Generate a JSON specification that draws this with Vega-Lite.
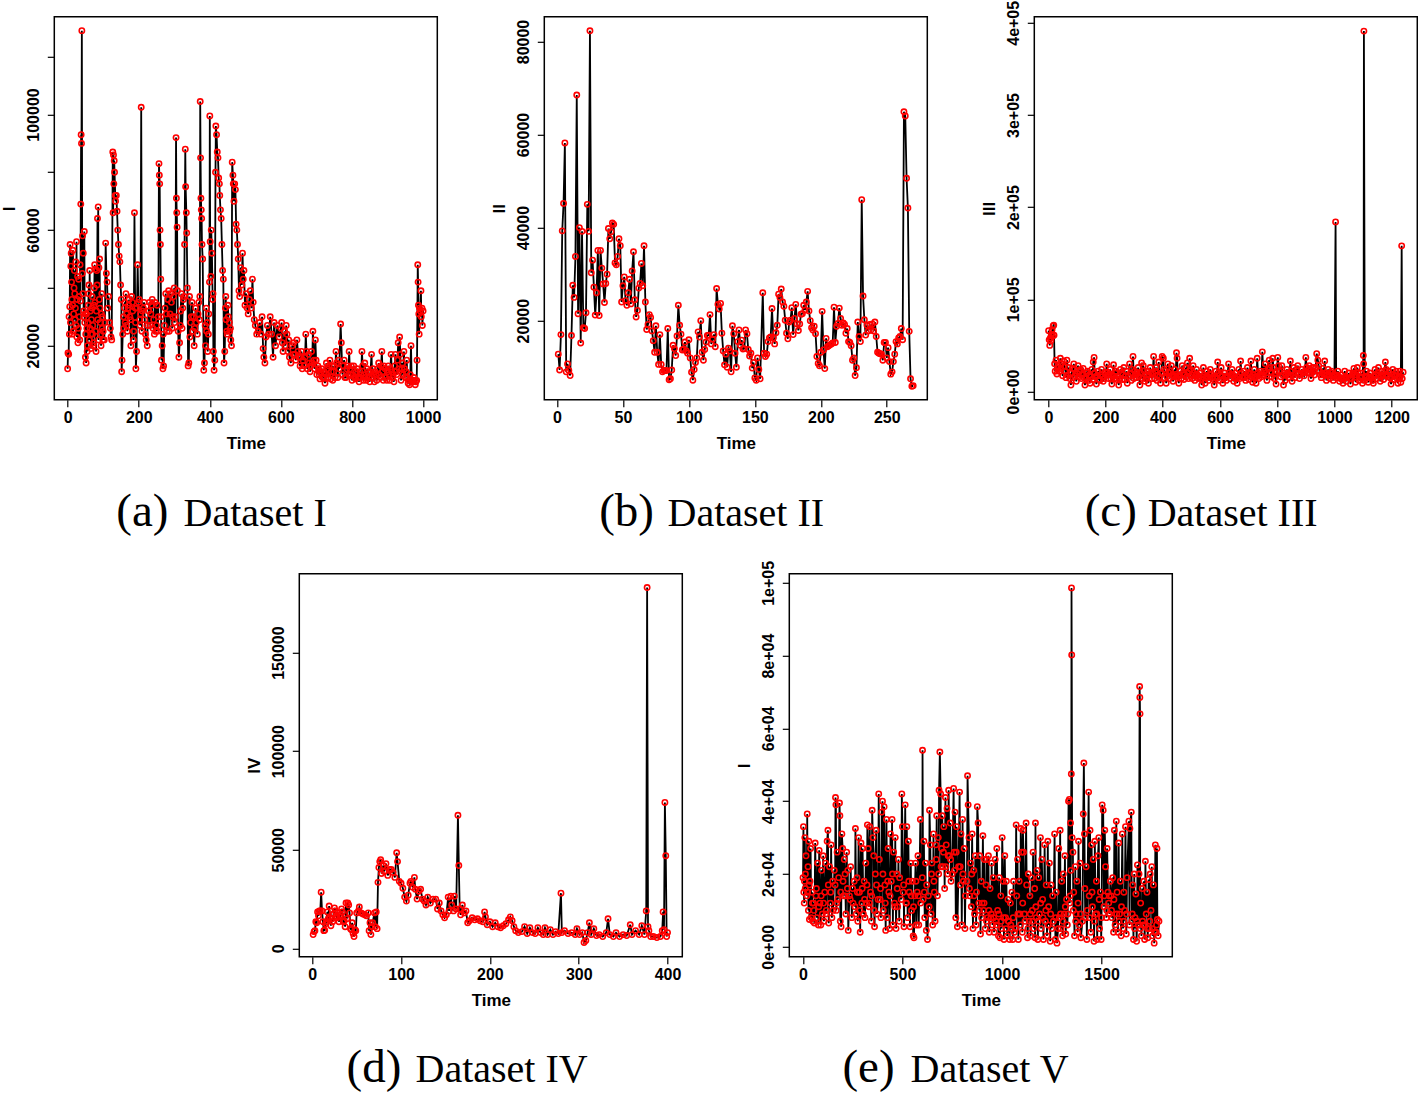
{"$schema":"https://vega.github.io/schema/vega-lite/v6.json","padding":{"left":-0.7,"top":-1.2,"right":0,"bottom":0},"background":"white","config":{"view":{"stroke":"black","strokeWidth":1.5},"line":{"color":"black","strokeWidth":1.8},"point":{"color":"#ff0000","filled":false,"size":28,"strokeWidth":1.6,"opacity":1},"axis":{"grid":false,"domain":false,"tickColor":"black","tickSize":7,"tickWidth":1.2,"labelFont":"Liberation Sans","labelFontWeight":"bold","labelFontSize":16,"labelColor":"black","titleFont":"Liberation Sans","titleFontWeight":"bold","titleFontSize":17,"titleColor":"black","labelOverlap":false,"labelFlush":false,"labelBound":false},"axisX":{"labelPadding":3,"titleY":49,"titleX":191.5,"titleBaseline":"alphabetic","titleAlign":"center","format":"d"},"axisY":{"labelPadding":6,"titleX":-39.5,"titleY":191.5,"titleAngle":-90,"titleBaseline":"alphabetic","titleAlign":"center","labelAngle":-90}},
"datasets":{
"a":[{"t":0,"v":12000},{"t":1,"v":17500},{"t":3,"v":17000},{"t":5,"v":24000},{"t":6,"v":33500},{"t":7,"v":55000},{"t":8,"v":28000},{"t":9,"v":47500},{"t":10,"v":52000},{"t":12,"v":36000},{"t":13,"v":24000},{"t":15,"v":53000},{"t":17,"v":31000},{"t":19,"v":46000},{"t":20,"v":38000},{"t":21,"v":29000},{"t":23,"v":49000},{"t":25,"v":56000},{"t":26,"v":23000},{"t":27,"v":36000},{"t":29,"v":21000},{"t":31,"v":43000},{"t":33,"v":30000},{"t":35,"v":48000},{"t":36,"v":35500},{"t":37,"v":69000},{"t":38,"v":93000},{"t":39,"v":90000},{"t":40,"v":129000},{"t":42,"v":58000},{"t":44,"v":52000},{"t":46,"v":30000},{"t":47,"v":59500},{"t":49,"v":31000},{"t":50,"v":16000},{"t":51,"v":24000},{"t":52,"v":14000},{"t":54,"v":26000},{"t":56,"v":20000},{"t":58,"v":34000},{"t":60,"v":41000},{"t":62,"v":46000},{"t":63,"v":26000},{"t":65,"v":19000},{"t":67,"v":29000},{"t":69,"v":37000},{"t":70,"v":24000},{"t":72,"v":20000},{"t":74,"v":34000},{"t":76,"v":48000},{"t":78,"v":46500},{"t":80,"v":18000},{"t":82,"v":46000},{"t":84,"v":64000},{"t":86,"v":68000},{"t":88,"v":47000},{"t":90,"v":50000},{"t":92,"v":28000},{"t":94,"v":20000},{"t":96,"v":38000},{"t":98,"v":30000},{"t":100,"v":25000},{"t":103,"v":22000},{"t":105,"v":28000},{"t":107,"v":55500},{"t":109,"v":45000},{"t":111,"v":42000},{"t":113,"v":33000},{"t":115,"v":37000},{"t":118,"v":28000},{"t":120,"v":26000},{"t":122,"v":23000},{"t":124,"v":22000},{"t":127,"v":87000},{"t":128,"v":66000},{"t":129,"v":86000},{"t":130,"v":76000},{"t":131,"v":84000},{"t":132,"v":80000},{"t":134,"v":72000},{"t":135,"v":70000},{"t":137,"v":72000},{"t":139,"v":66500},{"t":141,"v":60000},{"t":143,"v":55000},{"t":145,"v":51000},{"t":147,"v":49000},{"t":149,"v":41000},{"t":151,"v":36000},{"t":152,"v":11000},{"t":153,"v":15000},{"t":155,"v":24000},{"t":157,"v":30000},{"t":160,"v":33000},{"t":162,"v":28000},{"t":164,"v":38000},{"t":166,"v":31000},{"t":168,"v":25000},{"t":172,"v":34000},{"t":175,"v":30000},{"t":178,"v":20000},{"t":180,"v":37000},{"t":183,"v":32000},{"t":186,"v":25000},{"t":188,"v":66000},{"t":190,"v":33000},{"t":192,"v":12000},{"t":194,"v":18000},{"t":197,"v":48000},{"t":199,"v":35000},{"t":203,"v":29000},{"t":205,"v":31000},{"t":207,"v":102500},{"t":209,"v":25000},{"t":213,"v":33000},{"t":217,"v":29000},{"t":221,"v":22000},{"t":224,"v":20000},{"t":228,"v":32000},{"t":232,"v":27000},{"t":236,"v":34000},{"t":240,"v":26000},{"t":244,"v":24000},{"t":248,"v":25000},{"t":252,"v":34000},{"t":255,"v":30000},{"t":257,"v":83000},{"t":258,"v":79000},{"t":259,"v":76000},{"t":260,"v":60000},{"t":261,"v":55000},{"t":262,"v":43000},{"t":264,"v":15000},{"t":266,"v":20000},{"t":268,"v":12000},{"t":270,"v":13000},{"t":272,"v":27000},{"t":274,"v":33000},{"t":278,"v":31000},{"t":282,"v":36000},{"t":286,"v":25000},{"t":290,"v":38000},{"t":294,"v":26000},{"t":298,"v":37000},{"t":301,"v":28000},{"t":303,"v":30000},{"t":305,"v":92000},{"t":306,"v":71000},{"t":307,"v":66000},{"t":308,"v":61000},{"t":309,"v":39000},{"t":311,"v":25000},{"t":313,"v":16000},{"t":315,"v":21000},{"t":318,"v":32000},{"t":322,"v":26000},{"t":326,"v":36000},{"t":329,"v":55000},{"t":331,"v":88000},{"t":332,"v":75000},{"t":334,"v":66000},{"t":335,"v":59000},{"t":337,"v":40000},{"t":339,"v":13000},{"t":341,"v":14000},{"t":344,"v":23000},{"t":348,"v":30000},{"t":352,"v":25000},{"t":356,"v":20000},{"t":360,"v":33000},{"t":365,"v":24000},{"t":369,"v":35000},{"t":372,"v":37000},{"t":373,"v":104500},{"t":374,"v":85000},{"t":375,"v":71000},{"t":376,"v":67000},{"t":377,"v":64000},{"t":378,"v":55000},{"t":380,"v":50000},{"t":383,"v":11500},{"t":385,"v":14000},{"t":388,"v":20000},{"t":391,"v":25000},{"t":394,"v":18000},{"t":397,"v":31000},{"t":399,"v":42000},{"t":400,"v":99500},{"t":401,"v":56000},{"t":403,"v":44000},{"t":404,"v":60000},{"t":406,"v":52000},{"t":408,"v":36000},{"t":410,"v":18000},{"t":412,"v":11500},{"t":414,"v":15000},{"t":416,"v":80000},{"t":417,"v":96000},{"t":419,"v":93000},{"t":421,"v":87000},{"t":423,"v":85000},{"t":425,"v":78000},{"t":427,"v":76000},{"t":428,"v":72000},{"t":430,"v":67000},{"t":432,"v":64000},{"t":434,"v":55000},{"t":436,"v":46000},{"t":438,"v":43000},{"t":440,"v":14000},{"t":442,"v":18000},{"t":444,"v":33000},{"t":446,"v":29000},{"t":449,"v":24000},{"t":452,"v":30000},{"t":456,"v":25000},{"t":459,"v":22000},{"t":461,"v":20000},{"t":463,"v":83500},{"t":465,"v":79000},{"t":466,"v":76000},{"t":468,"v":70000},{"t":470,"v":76000},{"t":472,"v":74000},{"t":474,"v":62000},{"t":476,"v":60000},{"t":478,"v":55000},{"t":480,"v":50000},{"t":482,"v":39000},{"t":484,"v":37000},{"t":487,"v":47000},{"t":490,"v":41000},{"t":492,"v":52000},{"t":494,"v":43000},{"t":496,"v":46000},{"t":499,"v":34000},{"t":502,"v":38000},{"t":505,"v":33000},{"t":508,"v":31000},{"t":511,"v":36000},{"t":514,"v":39000},{"t":517,"v":33000},{"t":520,"v":43000},{"t":522,"v":35000},{"t":525,"v":29000},{"t":528,"v":27000},{"t":532,"v":24000},{"t":536,"v":25000},{"t":540,"v":28000},{"t":544,"v":24000},{"t":547,"v":30000},{"t":550,"v":19000},{"t":552,"v":16000},{"t":555,"v":14000},{"t":558,"v":23000},{"t":562,"v":27000},{"t":566,"v":24000},{"t":570,"v":30000},{"t":574,"v":24000},{"t":578,"v":16000},{"t":581,"v":28000},{"t":585,"v":20000},{"t":590,"v":27000},{"t":595,"v":23000},{"t":600,"v":26000},{"t":604,"v":21000},{"t":610,"v":25000},{"t":615,"v":27000},{"t":620,"v":18000},{"t":624,"v":16000},{"t":628,"v":14000},{"t":632,"v":20000},{"t":636,"v":21000},{"t":640,"v":17000},{"t":645,"v":22000},{"t":650,"v":16000},{"t":654,"v":13000},{"t":658,"v":18000},{"t":662,"v":15000},{"t":666,"v":13000},{"t":670,"v":24000},{"t":674,"v":12000},{"t":678,"v":17000},{"t":682,"v":11000},{"t":686,"v":18000},{"t":690,"v":25000},{"t":693,"v":15000},{"t":697,"v":22000},{"t":701,"v":10000},{"t":706,"v":12000},{"t":710,"v":8500},{"t":715,"v":12000},{"t":720,"v":9000},{"t":724,"v":7000},{"t":728,"v":14000},{"t":733,"v":9000},{"t":738,"v":15000},{"t":742,"v":11000},{"t":746,"v":8000},{"t":750,"v":13000},{"t":755,"v":18000},{"t":760,"v":9000},{"t":764,"v":12000},{"t":768,"v":27500},{"t":770,"v":21000},{"t":773,"v":10000},{"t":778,"v":15000},{"t":783,"v":9000},{"t":788,"v":13000},{"t":792,"v":18000},{"t":796,"v":10000},{"t":800,"v":8000},{"t":805,"v":13000},{"t":810,"v":8500},{"t":815,"v":12000},{"t":820,"v":7500},{"t":824,"v":9000},{"t":828,"v":18000},{"t":832,"v":8000},{"t":836,"v":14000},{"t":840,"v":8000},{"t":845,"v":11000},{"t":850,"v":7500},{"t":855,"v":17000},{"t":859,"v":12000},{"t":863,"v":7500},{"t":868,"v":10000},{"t":875,"v":14000},{"t":880,"v":9000},{"t":884,"v":18000},{"t":888,"v":8000},{"t":893,"v":12000},{"t":898,"v":8000},{"t":902,"v":13000},{"t":906,"v":8000},{"t":910,"v":17000},{"t":914,"v":9000},{"t":918,"v":7500},{"t":922,"v":17000},{"t":926,"v":10000},{"t":930,"v":21000},{"t":934,"v":23000},{"t":938,"v":8000},{"t":942,"v":14000},{"t":946,"v":18000},{"t":950,"v":9000},{"t":954,"v":15000},{"t":958,"v":7000},{"t":962,"v":6500},{"t":966,"v":20000},{"t":970,"v":7500},{"t":974,"v":9000},{"t":978,"v":6500},{"t":982,"v":8000},{"t":983,"v":15000},{"t":985,"v":48000},{"t":986,"v":42000},{"t":987,"v":34000},{"t":988,"v":31000},{"t":989,"v":24000},{"t":990,"v":33000},{"t":992,"v":32000},{"t":994,"v":39000},{"t":995,"v":30000},{"t":997,"v":33000},{"t":998,"v":27000},{"t":1000,"v":32000},{"t":4,"v":30000},{"t":11,"v":42000},{"t":14,"v":34000},{"t":16,"v":25000},{"t":18,"v":40000},{"t":22,"v":33000},{"t":24,"v":27000},{"t":28,"v":44000},{"t":30,"v":26000},{"t":32,"v":37000},{"t":34,"v":22000},{"t":41,"v":45000},{"t":43,"v":38000},{"t":45,"v":32000},{"t":48,"v":28000},{"t":53,"v":31000},{"t":55,"v":18000},{"t":57,"v":28000},{"t":59,"v":38000},{"t":61,"v":22000},{"t":64,"v":32000},{"t":66,"v":24000},{"t":68,"v":33000},{"t":71,"v":27000},{"t":73,"v":21000},{"t":75,"v":40000},{"t":77,"v":35000},{"t":79,"v":25000},{"t":81,"v":32000},{"t":83,"v":41000},{"t":85,"v":29000},{"t":87,"v":22000},{"t":89,"v":36000},{"t":91,"v":33000},{"t":93,"v":24000},{"t":95,"v":31000},{"t":97,"v":26000},{"t":99,"v":22000},{"t":158,"v":26000},{"t":161,"v":35000},{"t":165,"v":27000},{"t":170,"v":33000},{"t":173,"v":36000},{"t":177,"v":29000},{"t":182,"v":35000},{"t":185,"v":22000},{"t":191,"v":28000},{"t":195,"v":33000},{"t":201,"v":36000},{"t":204,"v":27000},{"t":210,"v":32000},{"t":215,"v":35000},{"t":219,"v":24000},{"t":225,"v":27000},{"t":230,"v":35000},{"t":234,"v":31000},{"t":238,"v":36000},{"t":242,"v":29000},{"t":246,"v":35000},{"t":250,"v":27000},{"t":253,"v":25000},{"t":263,"v":30000},{"t":269,"v":24000},{"t":276,"v":38000},{"t":280,"v":25000},{"t":284,"v":39000},{"t":288,"v":31000},{"t":292,"v":35000},{"t":296,"v":30000},{"t":300,"v":40000},{"t":317,"v":27000},{"t":320,"v":38000},{"t":324,"v":33000},{"t":328,"v":37000},{"t":343,"v":37000},{"t":346,"v":28000},{"t":350,"v":35000},{"t":354,"v":30000},{"t":358,"v":26000},{"t":362,"v":28000},{"t":367,"v":31000},{"t":371,"v":29000},{"t":387,"v":27000},{"t":390,"v":33000},{"t":393,"v":28000},{"t":396,"v":24000},{"t":409,"v":38000},{"t":445,"v":37000},{"t":448,"v":25000},{"t":451,"v":34000},{"t":455,"v":28000},{"t":458,"v":26000},{"t":602,"v":28000},{"t":606,"v":18000},{"t":612,"v":20000},{"t":617,"v":24000},{"t":622,"v":22000},{"t":635,"v":17000},{"t":642,"v":15000},{"t":648,"v":18000},{"t":656,"v":16000},{"t":660,"v":12000},{"t":668,"v":16000},{"t":672,"v":18000},{"t":680,"v":14000},{"t":684,"v":13000},{"t":688,"v":14000},{"t":695,"v":12000},{"t":699,"v":15000},{"t":704,"v":13000},{"t":708,"v":10000},{"t":712,"v":11000},{"t":717,"v":9000},{"t":722,"v":11000},{"t":726,"v":10000},{"t":730,"v":12000},{"t":735,"v":13000},{"t":740,"v":8500},{"t":744,"v":13000},{"t":748,"v":11000},{"t":752,"v":9000},{"t":757,"v":14000},{"t":762,"v":15000},{"t":775,"v":13000},{"t":780,"v":9000},{"t":785,"v":12000},{"t":790,"v":10000},{"t":794,"v":12000},{"t":798,"v":13000},{"t":802,"v":10000},{"t":807,"v":9000},{"t":812,"v":11000},{"t":817,"v":9000},{"t":822,"v":11000},{"t":826,"v":10000},{"t":830,"v":13000},{"t":834,"v":10000},{"t":838,"v":9000},{"t":842,"v":12000},{"t":848,"v":9000},{"t":852,"v":11000},{"t":857,"v":9000},{"t":861,"v":10000},{"t":865,"v":11000},{"t":870,"v":8000},{"t":873,"v":12000},{"t":877,"v":10000},{"t":882,"v":13000},{"t":886,"v":11000},{"t":890,"v":13000},{"t":895,"v":9000},{"t":900,"v":11000},{"t":904,"v":10000},{"t":908,"v":12000},{"t":912,"v":11000},{"t":916,"v":10000},{"t":920,"v":13000},{"t":924,"v":11000},{"t":928,"v":15000},{"t":932,"v":12000},{"t":936,"v":17000},{"t":940,"v":12000},{"t":944,"v":10000},{"t":948,"v":12000},{"t":952,"v":11000},{"t":956,"v":9000},{"t":960,"v":8000},{"t":964,"v":10000},{"t":968,"v":8000},{"t":972,"v":8000},{"t":976,"v":8000},{"t":980,"v":7500}],
"b":[{"t":1,"v":12800},{"t":2,"v":9400},{"t":3,"v":17000},{"t":4,"v":39300},{"t":5,"v":45200},{"t":6,"v":58200},{"t":7,"v":9000},{"t":8,"v":10700},{"t":9,"v":9300},{"t":10,"v":8200},{"t":11,"v":16800},{"t":12,"v":27600},{"t":13,"v":25000},{"t":14,"v":33800},{"t":15,"v":68500},{"t":16,"v":21500},{"t":17,"v":40000},{"t":18,"v":15200},{"t":19,"v":39200},{"t":20,"v":18500},{"t":21,"v":18300},{"t":22,"v":21700},{"t":23,"v":45000},{"t":24,"v":39200},{"t":25,"v":82300},{"t":26,"v":30300},{"t":27,"v":33000},{"t":28,"v":27200},{"t":29,"v":21200},{"t":30,"v":26000},{"t":31,"v":35100},{"t":32,"v":21100},{"t":33,"v":35100},{"t":34,"v":31300},{"t":35,"v":27900},{"t":36,"v":23900},{"t":37,"v":28000},{"t":38,"v":30000},{"t":39,"v":39800},{"t":40,"v":37600},{"t":41,"v":39100},{"t":42,"v":41000},{"t":43,"v":40700},{"t":44,"v":32400},{"t":45,"v":32000},{"t":46,"v":33800},{"t":47,"v":37600},{"t":48,"v":36100},{"t":49,"v":24000},{"t":50,"v":27500},{"t":51,"v":29400},{"t":52,"v":24300},{"t":53,"v":23300},{"t":54,"v":26000},{"t":55,"v":28900},{"t":56,"v":23600},{"t":57,"v":30700},{"t":58,"v":34800},{"t":59,"v":24500},{"t":60,"v":20800},{"t":61,"v":22200},{"t":62,"v":27000},{"t":63,"v":28000},{"t":64,"v":32300},{"t":65,"v":27500},{"t":66,"v":36100},{"t":67,"v":24000},{"t":68,"v":18100},{"t":69,"v":19200},{"t":70,"v":21300},{"t":71,"v":20700},{"t":72,"v":17800},{"t":73,"v":15700},{"t":74,"v":13200},{"t":75,"v":18900},{"t":76,"v":13200},{"t":77,"v":10600},{"t":78,"v":17000},{"t":79,"v":10600},{"t":80,"v":9000},{"t":81,"v":9300},{"t":82,"v":9300},{"t":83,"v":9300},{"t":84,"v":18300},{"t":85,"v":7300},{"t":86,"v":7500},{"t":87,"v":9400},{"t":88,"v":14700},{"t":89,"v":14000},{"t":90,"v":12500},{"t":91,"v":16700},{"t":92,"v":23300},{"t":93,"v":19000},{"t":94,"v":17100},{"t":95,"v":13700},{"t":96,"v":13900},{"t":97,"v":15400},{"t":98,"v":13500},{"t":99,"v":13000},{"t":100,"v":15900},{"t":101,"v":12000},{"t":102,"v":8900},{"t":103,"v":7200},{"t":104,"v":9500},{"t":105,"v":11000},{"t":106,"v":12000},{"t":107,"v":17600},{"t":108,"v":16500},{"t":109,"v":20000},{"t":110,"v":13200},{"t":111,"v":11500},{"t":112,"v":13800},{"t":113,"v":15400},{"t":114,"v":16800},{"t":115,"v":16900},{"t":116,"v":21300},{"t":117,"v":15000},{"t":118,"v":16000},{"t":119,"v":17000},{"t":120,"v":14400},{"t":121,"v":26900},{"t":122,"v":23500},{"t":123,"v":22500},{"t":124,"v":23700},{"t":125,"v":17300},{"t":126,"v":13500},{"t":127,"v":10500},{"t":128,"v":12800},{"t":129,"v":10000},{"t":130,"v":14100},{"t":131,"v":13500},{"t":132,"v":9000},{"t":133,"v":18900},{"t":134,"v":17200},{"t":135,"v":13000},{"t":136,"v":10000},{"t":137,"v":15500},{"t":138,"v":18000},{"t":139,"v":14700},{"t":140,"v":15800},{"t":141,"v":13900},{"t":142,"v":14000},{"t":143,"v":18000},{"t":144,"v":17200},{"t":145,"v":13800},{"t":146,"v":12400},{"t":147,"v":13000},{"t":148,"v":9800},{"t":149,"v":11000},{"t":150,"v":7700},{"t":151,"v":7200},{"t":152,"v":12000},{"t":153,"v":9500},{"t":154,"v":7500},{"t":156,"v":26000},{"t":157,"v":13000},{"t":158,"v":12300},{"t":159,"v":12800},{"t":160,"v":15500},{"t":161,"v":16300},{"t":162,"v":16500},{"t":163,"v":22600},{"t":164,"v":16300},{"t":165,"v":15000},{"t":166,"v":17400},{"t":167,"v":19000},{"t":168,"v":25700},{"t":169,"v":25000},{"t":170,"v":26800},{"t":171,"v":24000},{"t":172,"v":23100},{"t":173,"v":20100},{"t":174,"v":17300},{"t":175,"v":16100},{"t":176,"v":19700},{"t":177,"v":20100},{"t":178,"v":22800},{"t":179,"v":17000},{"t":180,"v":20500},{"t":181,"v":23500},{"t":182,"v":19300},{"t":183,"v":17900},{"t":184,"v":19300},{"t":185,"v":21400},{"t":186,"v":21500},{"t":187,"v":23300},{"t":188,"v":22300},{"t":189,"v":24000},{"t":190,"v":26300},{"t":191,"v":22100},{"t":192,"v":20000},{"t":193,"v":18500},{"t":194,"v":18000},{"t":195,"v":18800},{"t":196,"v":17200},{"t":197,"v":12300},{"t":198,"v":10800},{"t":199,"v":10300},{"t":200,"v":13200},{"t":201,"v":22000},{"t":202,"v":13700},{"t":203,"v":9700},{"t":204,"v":16200},{"t":205,"v":14400},{"t":206,"v":14600},{"t":207,"v":14800},{"t":208,"v":15000},{"t":209,"v":15200},{"t":210,"v":22900},{"t":211,"v":15300},{"t":212,"v":18800},{"t":213,"v":19400},{"t":214,"v":22700},{"t":215,"v":20500},{"t":216,"v":19000},{"t":217,"v":19500},{"t":218,"v":19200},{"t":219,"v":17300},{"t":220,"v":18300},{"t":221,"v":15500},{"t":222,"v":15300},{"t":223,"v":14600},{"t":224,"v":11500},{"t":225,"v":12000},{"t":226,"v":8200},{"t":227,"v":9900},{"t":228,"v":19700},{"t":229,"v":16600},{"t":230,"v":15500},{"t":231,"v":46000},{"t":232,"v":25300},{"t":233,"v":20200},{"t":234,"v":16900},{"t":235,"v":19000},{"t":236,"v":17800},{"t":237,"v":19200},{"t":238,"v":18000},{"t":239,"v":19300},{"t":240,"v":17800},{"t":241,"v":19700},{"t":242,"v":16600},{"t":243,"v":13200},{"t":244,"v":13000},{"t":245,"v":12900},{"t":246,"v":12800},{"t":247,"v":11500},{"t":248,"v":15300},{"t":249,"v":15300},{"t":250,"v":12000},{"t":251,"v":14200},{"t":252,"v":11200},{"t":253,"v":8500},{"t":254,"v":9000},{"t":255,"v":11200},{"t":256,"v":12800},{"t":257,"v":15500},{"t":258,"v":15000},{"t":259,"v":16300},{"t":260,"v":16600},{"t":261,"v":18300},{"t":262,"v":15900},{"t":263,"v":64900},{"t":264,"v":64000},{"t":265,"v":50600},{"t":266,"v":44200},{"t":267,"v":17700},{"t":268,"v":7500},{"t":269,"v":5900},{"t":270,"v":6000}],
"c":[{"t":1,"v":66000},{"t":3,"v":56000},{"t":5,"v":50000},{"t":7,"v":58000},{"t":9,"v":55000},{"t":11,"v":62000},{"t":13,"v":67000},{"t":15,"v":60000},{"t":17,"v":71000},{"t":19,"v":72000},{"t":20,"v":61000},{"t":22,"v":30000},{"t":24,"v":22000},{"t":27,"v":34000},{"t":30,"v":19000},{"t":34,"v":28000},{"t":38,"v":22000},{"t":42,"v":36000},{"t":46,"v":30000},{"t":50,"v":17000},{"t":54,"v":33000},{"t":60,"v":22000},{"t":65,"v":34000},{"t":70,"v":26000},{"t":75,"v":14000},{"t":79,"v":7000},{"t":84,"v":25000},{"t":89,"v":30000},{"t":94,"v":17000},{"t":98,"v":11000},{"t":104,"v":28000},{"t":110,"v":22000},{"t":116,"v":14000},{"t":122,"v":25000},{"t":128,"v":7000},{"t":134,"v":20000},{"t":140,"v":12000},{"t":146,"v":9000},{"t":152,"v":24000},{"t":157,"v":32000},{"t":160,"v":37000},{"t":164,"v":16000},{"t":168,"v":8000},{"t":174,"v":22000},{"t":180,"v":12000},{"t":186,"v":24000},{"t":192,"v":11000},{"t":198,"v":21000},{"t":204,"v":30000},{"t":210,"v":14000},{"t":216,"v":24000},{"t":222,"v":8000},{"t":228,"v":29000},{"t":234,"v":20000},{"t":240,"v":13000},{"t":246,"v":7000},{"t":252,"v":24000},{"t":258,"v":13000},{"t":264,"v":26000},{"t":270,"v":17000},{"t":276,"v":9000},{"t":284,"v":30000},{"t":290,"v":12000},{"t":296,"v":38000},{"t":302,"v":22000},{"t":308,"v":15000},{"t":314,"v":26000},{"t":320,"v":7000},{"t":326,"v":31000},{"t":332,"v":28000},{"t":338,"v":11000},{"t":344,"v":18000},{"t":350,"v":9000},{"t":356,"v":26000},{"t":362,"v":14000},{"t":368,"v":38000},{"t":374,"v":22000},{"t":380,"v":12000},{"t":386,"v":32000},{"t":392,"v":9000},{"t":398,"v":38000},{"t":402,"v":36000},{"t":406,"v":15000},{"t":412,"v":9000},{"t":418,"v":30000},{"t":424,"v":14000},{"t":430,"v":28000},{"t":436,"v":11000},{"t":442,"v":24000},{"t":448,"v":42000},{"t":450,"v":36000},{"t":456,"v":9000},{"t":462,"v":22000},{"t":468,"v":28000},{"t":474,"v":13000},{"t":480,"v":26000},{"t":486,"v":31000},{"t":490,"v":14000},{"t":494,"v":36000},{"t":500,"v":18000},{"t":506,"v":28000},{"t":512,"v":12000},{"t":518,"v":24000},{"t":524,"v":14000},{"t":530,"v":20000},{"t":536,"v":7000},{"t":542,"v":26000},{"t":548,"v":9000},{"t":554,"v":22000},{"t":560,"v":12000},{"t":566,"v":24000},{"t":572,"v":14000},{"t":580,"v":7000},{"t":586,"v":22000},{"t":592,"v":32000},{"t":598,"v":12000},{"t":604,"v":26000},{"t":610,"v":9000},{"t":616,"v":20000},{"t":622,"v":12000},{"t":630,"v":30000},{"t":636,"v":14000},{"t":642,"v":24000},{"t":648,"v":11000},{"t":654,"v":20000},{"t":660,"v":9000},{"t":666,"v":24000},{"t":672,"v":33000},{"t":678,"v":16000},{"t":684,"v":22000},{"t":690,"v":12000},{"t":696,"v":26000},{"t":702,"v":13000},{"t":708,"v":33000},{"t":714,"v":10000},{"t":720,"v":24000},{"t":726,"v":9000},{"t":730,"v":36000},{"t":736,"v":14000},{"t":742,"v":22000},{"t":748,"v":43000},{"t":752,"v":18000},{"t":758,"v":30000},{"t":764,"v":12000},{"t":772,"v":34000},{"t":778,"v":20000},{"t":784,"v":36000},{"t":790,"v":14000},{"t":796,"v":8000},{"t":802,"v":37000},{"t":808,"v":22000},{"t":816,"v":28000},{"t":822,"v":7000},{"t":828,"v":12000},{"t":834,"v":24000},{"t":840,"v":15000},{"t":846,"v":33000},{"t":852,"v":11000},{"t":858,"v":26000},{"t":866,"v":20000},{"t":872,"v":28000},{"t":878,"v":14000},{"t":886,"v":24000},{"t":894,"v":17000},{"t":900,"v":37000},{"t":906,"v":20000},{"t":912,"v":28000},{"t":918,"v":14000},{"t":924,"v":26000},{"t":930,"v":18000},{"t":938,"v":41000},{"t":942,"v":34000},{"t":948,"v":22000},{"t":954,"v":15000},{"t":960,"v":25000},{"t":966,"v":33000},{"t":972,"v":12000},{"t":978,"v":24000},{"t":984,"v":14000},{"t":990,"v":22000},{"t":996,"v":12000},{"t":1004,"v":184000},{"t":1006,"v":15000},{"t":1012,"v":22000},{"t":1018,"v":11000},{"t":1024,"v":18000},{"t":1030,"v":9000},{"t":1036,"v":22000},{"t":1042,"v":11000},{"t":1050,"v":20000},{"t":1056,"v":8000},{"t":1062,"v":18000},{"t":1068,"v":25000},{"t":1074,"v":10000},{"t":1080,"v":26000},{"t":1086,"v":12000},{"t":1092,"v":20000},{"t":1098,"v":9000},{"t":1101,"v":39000},{"t":1102,"v":30000},{"t":1103,"v":391000},{"t":1106,"v":12000},{"t":1112,"v":22000},{"t":1118,"v":10000},{"t":1124,"v":20000},{"t":1130,"v":14000},{"t":1136,"v":9000},{"t":1142,"v":24000},{"t":1148,"v":14000},{"t":1154,"v":26000},{"t":1160,"v":11000},{"t":1166,"v":22000},{"t":1172,"v":13000},{"t":1178,"v":32000},{"t":1184,"v":16000},{"t":1190,"v":22000},{"t":1198,"v":8000},{"t":1204,"v":24000},{"t":1210,"v":13000},{"t":1216,"v":22000},{"t":1222,"v":9000},{"t":1228,"v":22000},{"t":1232,"v":10000},{"t":1235,"v":158000},{"t":1237,"v":14000},{"t":1240,"v":21000},{"t":32,"v":25000},{"t":44,"v":25000},{"t":56,"v":27000},{"t":62,"v":15000},{"t":68,"v":18000},{"t":78,"v":20000},{"t":86,"v":15000},{"t":92,"v":24000},{"t":100,"v":20000},{"t":107,"v":16000},{"t":113,"v":24000},{"t":119,"v":18000},{"t":125,"v":15000},{"t":131,"v":14000},{"t":137,"v":22000},{"t":143,"v":18000},{"t":149,"v":16000},{"t":155,"v":13000},{"t":162,"v":20000},{"t":171,"v":17000},{"t":177,"v":13000},{"t":183,"v":18000},{"t":189,"v":16000},{"t":195,"v":14000},{"t":201,"v":18000},{"t":207,"v":21000},{"t":213,"v":18000},{"t":219,"v":14000},{"t":225,"v":17000},{"t":231,"v":14000},{"t":237,"v":22000},{"t":243,"v":16000},{"t":249,"v":14000},{"t":255,"v":20000},{"t":261,"v":18000},{"t":267,"v":13000},{"t":273,"v":22000},{"t":280,"v":17000},{"t":287,"v":20000},{"t":293,"v":24000},{"t":299,"v":14000},{"t":305,"v":18000},{"t":311,"v":20000},{"t":317,"v":16000},{"t":323,"v":20000},{"t":329,"v":14000},{"t":335,"v":22000},{"t":341,"v":14000},{"t":347,"v":22000},{"t":353,"v":18000},{"t":359,"v":20000},{"t":365,"v":20000},{"t":371,"v":14000},{"t":377,"v":26000},{"t":383,"v":18000},{"t":389,"v":16000},{"t":395,"v":20000},{"t":404,"v":24000},{"t":409,"v":22000},{"t":415,"v":16000},{"t":421,"v":20000},{"t":427,"v":22000},{"t":433,"v":18000},{"t":439,"v":16000},{"t":445,"v":17000},{"t":453,"v":16000},{"t":459,"v":18000},{"t":465,"v":14000},{"t":471,"v":20000},{"t":477,"v":18000},{"t":483,"v":16000},{"t":488,"v":20000},{"t":492,"v":22000},{"t":497,"v":24000},{"t":503,"v":14000},{"t":509,"v":20000},{"t":515,"v":18000},{"t":521,"v":18000},{"t":527,"v":16000},{"t":533,"v":14000},{"t":539,"v":16000},{"t":545,"v":18000},{"t":551,"v":15000},{"t":557,"v":16000},{"t":563,"v":18000},{"t":569,"v":19000},{"t":576,"v":16000},{"t":583,"v":15000},{"t":589,"v":14000},{"t":595,"v":20000},{"t":601,"v":18000},{"t":607,"v":17000},{"t":613,"v":14000},{"t":619,"v":16000},{"t":626,"v":17000},{"t":633,"v":20000},{"t":639,"v":18000},{"t":645,"v":18000},{"t":651,"v":15000},{"t":657,"v":14000},{"t":663,"v":16000},{"t":669,"v":14000},{"t":675,"v":20000},{"t":681,"v":15000},{"t":687,"v":16000},{"t":693,"v":18000},{"t":699,"v":20000},{"t":705,"v":19000},{"t":711,"v":16000},{"t":717,"v":18000},{"t":723,"v":16000},{"t":728,"v":16000},{"t":733,"v":20000},{"t":739,"v":18000},{"t":745,"v":16000},{"t":755,"v":22000},{"t":761,"v":20000},{"t":768,"v":24000},{"t":775,"v":26000},{"t":781,"v":16000},{"t":787,"v":26000},{"t":793,"v":20000},{"t":799,"v":22000},{"t":805,"v":28000},{"t":812,"v":16000},{"t":819,"v":18000},{"t":825,"v":20000},{"t":831,"v":18000},{"t":837,"v":20000},{"t":843,"v":18000},{"t":849,"v":22000},{"t":855,"v":18000},{"t":862,"v":15000},{"t":869,"v":24000},{"t":875,"v":20000},{"t":882,"v":18000},{"t":890,"v":20000},{"t":897,"v":22000},{"t":903,"v":26000},{"t":909,"v":24000},{"t":915,"v":20000},{"t":921,"v":20000},{"t":927,"v":22000},{"t":934,"v":26000},{"t":945,"v":28000},{"t":951,"v":18000},{"t":957,"v":20000},{"t":963,"v":18000},{"t":969,"v":20000},{"t":975,"v":18000},{"t":981,"v":18000},{"t":987,"v":20000},{"t":993,"v":17000},{"t":1000,"v":18000},{"t":1009,"v":18000},{"t":1015,"v":16000},{"t":1021,"v":14000},{"t":1027,"v":14000},{"t":1033,"v":15000},{"t":1039,"v":16000},{"t":1046,"v":15000},{"t":1053,"v":14000},{"t":1059,"v":14000},{"t":1065,"v":20000},{"t":1071,"v":18000},{"t":1077,"v":18000},{"t":1083,"v":20000},{"t":1089,"v":16000},{"t":1095,"v":15000},{"t":1109,"v":16000},{"t":1115,"v":16000},{"t":1121,"v":15000},{"t":1127,"v":16000},{"t":1133,"v":12000},{"t":1139,"v":16000},{"t":1145,"v":18000},{"t":1151,"v":20000},{"t":1157,"v":18000},{"t":1163,"v":16000},{"t":1169,"v":18000},{"t":1175,"v":22000},{"t":1181,"v":24000},{"t":1187,"v":18000},{"t":1194,"v":15000},{"t":1201,"v":16000},{"t":1207,"v":18000},{"t":1213,"v":17000},{"t":1219,"v":14000},{"t":1225,"v":15000},{"t":1230,"v":16000}],
"d":[{"t":1,"v":7000},{"t":2,"v":8500},{"t":3,"v":9000},{"t":4,"v":13500},{"t":5,"v":13000},{"t":6,"v":18500},{"t":7,"v":16500},{"t":8,"v":19000},{"t":9,"v":19000},{"t":10,"v":28500},{"t":11,"v":19000},{"t":12,"v":13500},{"t":13,"v":9000},{"t":14,"v":9200},{"t":15,"v":12500},{"t":16,"v":13500},{"t":17,"v":18500},{"t":18,"v":15000},{"t":19,"v":21500},{"t":20,"v":15500},{"t":21,"v":11500},{"t":22,"v":15000},{"t":23,"v":13500},{"t":24,"v":17500},{"t":25,"v":20500},{"t":26,"v":19000},{"t":27,"v":16500},{"t":28,"v":15500},{"t":29,"v":18000},{"t":30,"v":13500},{"t":31,"v":16000},{"t":32,"v":17000},{"t":33,"v":20000},{"t":34,"v":18500},{"t":35,"v":13500},{"t":36,"v":14000},{"t":37,"v":11000},{"t":38,"v":23000},{"t":39,"v":15000},{"t":40,"v":23000},{"t":41,"v":22000},{"t":42,"v":18000},{"t":43,"v":10000},{"t":44,"v":9500},{"t":45,"v":13000},{"t":46,"v":7500},{"t":47,"v":6000},{"t":48,"v":9500},{"t":49,"v":9000},{"t":50,"v":18000},{"t":52,"v":19000},{"t":53,"v":21000},{"t":55,"v":18000},{"t":57,"v":17500},{"t":59,"v":17000},{"t":61,"v":16500},{"t":63,"v":18000},{"t":64,"v":9000},{"t":65,"v":13000},{"t":66,"v":7000},{"t":67,"v":11000},{"t":68,"v":13000},{"t":70,"v":18000},{"t":71,"v":11000},{"t":72,"v":18500},{"t":73,"v":10000},{"t":74,"v":33500},{"t":75,"v":41000},{"t":76,"v":44000},{"t":77,"v":45000},{"t":78,"v":38000},{"t":80,"v":42000},{"t":81,"v":39000},{"t":83,"v":43000},{"t":85,"v":37000},{"t":87,"v":40000},{"t":89,"v":40000},{"t":91,"v":38500},{"t":93,"v":36000},{"t":95,"v":48500},{"t":96,"v":44000},{"t":98,"v":34000},{"t":100,"v":33000},{"t":102,"v":30500},{"t":104,"v":26000},{"t":106,"v":24000},{"t":108,"v":27000},{"t":110,"v":33000},{"t":111,"v":34000},{"t":113,"v":31000},{"t":115,"v":36000},{"t":116,"v":30000},{"t":118,"v":25000},{"t":120,"v":29000},{"t":122,"v":30000},{"t":124,"v":25000},{"t":126,"v":24000},{"t":128,"v":22000},{"t":130,"v":26000},{"t":133,"v":23000},{"t":136,"v":25000},{"t":139,"v":25000},{"t":141,"v":20000},{"t":143,"v":23000},{"t":145,"v":19000},{"t":147,"v":17000},{"t":149,"v":15500},{"t":151,"v":17000},{"t":153,"v":26000},{"t":154,"v":19000},{"t":156,"v":26500},{"t":157,"v":22000},{"t":159,"v":19000},{"t":160,"v":26500},{"t":162,"v":20000},{"t":164,"v":67500},{"t":165,"v":42000},{"t":166,"v":20000},{"t":167,"v":17000},{"t":169,"v":22000},{"t":171,"v":18000},{"t":173,"v":19000},{"t":175,"v":13000},{"t":177,"v":14000},{"t":180,"v":15500},{"t":183,"v":14500},{"t":186,"v":15000},{"t":189,"v":14000},{"t":192,"v":13500},{"t":194,"v":18500},{"t":195,"v":16000},{"t":197,"v":12000},{"t":200,"v":13500},{"t":203,"v":11000},{"t":206,"v":13000},{"t":209,"v":11000},{"t":212,"v":10500},{"t":215,"v":11500},{"t":218,"v":12500},{"t":221,"v":14500},{"t":223,"v":16000},{"t":225,"v":14000},{"t":227,"v":11000},{"t":229,"v":9000},{"t":232,"v":8000},{"t":236,"v":8500},{"t":239,"v":11000},{"t":242,"v":7500},{"t":245,"v":10500},{"t":248,"v":8000},{"t":251,"v":7500},{"t":254,"v":10500},{"t":257,"v":8000},{"t":260,"v":7000},{"t":262,"v":10500},{"t":265,"v":7000},{"t":268,"v":9500},{"t":271,"v":7000},{"t":274,"v":8500},{"t":277,"v":7500},{"t":280,"v":28000},{"t":281,"v":8000},{"t":284,"v":9000},{"t":288,"v":7500},{"t":292,"v":8000},{"t":296,"v":7000},{"t":298,"v":10000},{"t":301,"v":7000},{"t":304,"v":8000},{"t":306,"v":3000},{"t":308,"v":4000},{"t":310,"v":8000},{"t":312,"v":13000},{"t":314,"v":7000},{"t":317,"v":10000},{"t":320,"v":6500},{"t":323,"v":7000},{"t":327,"v":6000},{"t":331,"v":8000},{"t":333,"v":15000},{"t":335,"v":7000},{"t":339,"v":6000},{"t":342,"v":8000},{"t":346,"v":6000},{"t":350,"v":7000},{"t":354,"v":6500},{"t":358,"v":12000},{"t":360,"v":7000},{"t":364,"v":9000},{"t":368,"v":7000},{"t":371,"v":11500},{"t":374,"v":7000},{"t":376,"v":19000},{"t":377,"v":183000},{"t":378,"v":11000},{"t":379,"v":9000},{"t":381,"v":6000},{"t":384,"v":6000},{"t":388,"v":5500},{"t":392,"v":6000},{"t":394,"v":9000},{"t":395,"v":18500},{"t":396,"v":9500},{"t":397,"v":74000},{"t":398,"v":47000},{"t":399,"v":6000},{"t":400,"v":8000}],
"e":[{"t":1,"v":19000},{"t":3,"v":33000},{"t":5,"v":15000},{"t":7,"v":12000},{"t":10,"v":30000},{"t":13,"v":20000},{"t":16,"v":25000},{"t":22,"v":36500},{"t":24,"v":15000},{"t":26,"v":22000},{"t":28,"v":10000},{"t":30,"v":29000},{"t":33,"v":7500},{"t":36,"v":18000},{"t":39,"v":27000},{"t":42,"v":8000},{"t":46,"v":15000},{"t":50,"v":7000},{"t":54,"v":12000},{"t":58,"v":6500},{"t":62,"v":28500},{"t":66,"v":14000},{"t":70,"v":8000},{"t":74,"v":23000},{"t":78,"v":6000},{"t":82,"v":26500},{"t":86,"v":12000},{"t":90,"v":6000},{"t":94,"v":21000},{"t":98,"v":9000},{"t":102,"v":25000},{"t":106,"v":7000},{"t":110,"v":15000},{"t":114,"v":23000},{"t":118,"v":10000},{"t":122,"v":29000},{"t":126,"v":32000},{"t":130,"v":6500},{"t":134,"v":22000},{"t":138,"v":12000},{"t":142,"v":28000},{"t":146,"v":8000},{"t":150,"v":18000},{"t":164,"v":41000},{"t":166,"v":39000},{"t":168,"v":10000},{"t":172,"v":26000},{"t":176,"v":13000},{"t":184,"v":39500},{"t":186,"v":36000},{"t":188,"v":7000},{"t":192,"v":5500},{"t":196,"v":31000},{"t":200,"v":27000},{"t":204,"v":14000},{"t":208,"v":24000},{"t":212,"v":20000},{"t":216,"v":9000},{"t":220,"v":26000},{"t":224,"v":16000},{"t":228,"v":4500},{"t":234,"v":14000},{"t":240,"v":22000},{"t":246,"v":8000},{"t":252,"v":12000},{"t":258,"v":18000},{"t":264,"v":32500},{"t":268,"v":9000},{"t":272,"v":19000},{"t":276,"v":7000},{"t":280,"v":30000},{"t":284,"v":15000},{"t":288,"v":4000},{"t":292,"v":28500},{"t":296,"v":12000},{"t":300,"v":27000},{"t":304,"v":9000},{"t":308,"v":18000},{"t":312,"v":8000},{"t":316,"v":23000},{"t":320,"v":12000},{"t":324,"v":33500},{"t":328,"v":27000},{"t":332,"v":11000},{"t":336,"v":33000},{"t":340,"v":15000},{"t":344,"v":7000},{"t":348,"v":37500},{"t":352,"v":30000},{"t":356,"v":25000},{"t":360,"v":5500},{"t":364,"v":20000},{"t":368,"v":32000},{"t":372,"v":9000},{"t":381,"v":42000},{"t":384,"v":24000},{"t":388,"v":13000},{"t":392,"v":8000},{"t":396,"v":37000},{"t":400,"v":40000},{"t":404,"v":10000},{"t":408,"v":38500},{"t":412,"v":17000},{"t":416,"v":4500},{"t":420,"v":35000},{"t":424,"v":8000},{"t":428,"v":27000},{"t":432,"v":15000},{"t":436,"v":5000},{"t":440,"v":31000},{"t":444,"v":18000},{"t":448,"v":35000},{"t":452,"v":6000},{"t":456,"v":26000},{"t":460,"v":12000},{"t":464,"v":30000},{"t":468,"v":5000},{"t":472,"v":20000},{"t":476,"v":11000},{"t":480,"v":24000},{"t":484,"v":7000},{"t":497,"v":42000},{"t":500,"v":33000},{"t":504,"v":15000},{"t":508,"v":5500},{"t":514,"v":39000},{"t":518,"v":12000},{"t":522,"v":33000},{"t":526,"v":8000},{"t":530,"v":29000},{"t":534,"v":15000},{"t":538,"v":5500},{"t":542,"v":23000},{"t":546,"v":10000},{"t":550,"v":18000},{"t":554,"v":3000},{"t":558,"v":2500},{"t":562,"v":14000},{"t":566,"v":23000},{"t":570,"v":6000},{"t":574,"v":15000},{"t":578,"v":25000},{"t":582,"v":6000},{"t":590,"v":35000},{"t":601,"v":54000},{"t":604,"v":13000},{"t":608,"v":29000},{"t":612,"v":8000},{"t":616,"v":23000},{"t":620,"v":4500},{"t":626,"v":2000},{"t":630,"v":14000},{"t":636,"v":37500},{"t":640,"v":28000},{"t":644,"v":9000},{"t":648,"v":23000},{"t":652,"v":6000},{"t":656,"v":31000},{"t":660,"v":15000},{"t":664,"v":7000},{"t":668,"v":28000},{"t":672,"v":36000},{"t":676,"v":14000},{"t":680,"v":30000},{"t":684,"v":43000},{"t":688,"v":53500},{"t":692,"v":42000},{"t":696,"v":27000},{"t":700,"v":36000},{"t":704,"v":22000},{"t":708,"v":33000},{"t":712,"v":16000},{"t":716,"v":41000},{"t":720,"v":28000},{"t":724,"v":38000},{"t":728,"v":20000},{"t":732,"v":43000},{"t":736,"v":25000},{"t":740,"v":34000},{"t":744,"v":18000},{"t":757,"v":43500},{"t":760,"v":26000},{"t":764,"v":37000},{"t":768,"v":8000},{"t":772,"v":33000},{"t":776,"v":5500},{"t":787,"v":42500},{"t":790,"v":22000},{"t":794,"v":31000},{"t":798,"v":6000},{"t":802,"v":35000},{"t":806,"v":18000},{"t":810,"v":27000},{"t":814,"v":5000},{"t":827,"v":47000},{"t":830,"v":39000},{"t":834,"v":30000},{"t":838,"v":14000},{"t":842,"v":23000},{"t":846,"v":11000},{"t":850,"v":31000},{"t":854,"v":5000},{"t":858,"v":21000},{"t":862,"v":9000},{"t":866,"v":25000},{"t":870,"v":6000},{"t":876,"v":38500},{"t":880,"v":34000},{"t":884,"v":12000},{"t":888,"v":25000},{"t":892,"v":3500},{"t":896,"v":18000},{"t":900,"v":12000},{"t":904,"v":30500},{"t":908,"v":10000},{"t":912,"v":24000},{"t":916,"v":5000},{"t":920,"v":17000},{"t":924,"v":24000},{"t":928,"v":8000},{"t":932,"v":25000},{"t":936,"v":4000},{"t":940,"v":16000},{"t":944,"v":8000},{"t":948,"v":23000},{"t":952,"v":6000},{"t":956,"v":19000},{"t":960,"v":4000},{"t":966,"v":24000},{"t":970,"v":7000},{"t":974,"v":27000},{"t":978,"v":10000},{"t":982,"v":3000},{"t":986,"v":19000},{"t":990,"v":2500},{"t":994,"v":14000},{"t":998,"v":5000},{"t":1001,"v":30000},{"t":1006,"v":18000},{"t":1010,"v":2000},{"t":1014,"v":25000},{"t":1018,"v":8000},{"t":1022,"v":18000},{"t":1026,"v":3000},{"t":1030,"v":13000},{"t":1034,"v":7000},{"t":1038,"v":2000},{"t":1042,"v":12000},{"t":1046,"v":5000},{"t":1050,"v":15000},{"t":1054,"v":2000},{"t":1058,"v":18000},{"t":1062,"v":4000},{"t":1071,"v":33500},{"t":1074,"v":14000},{"t":1078,"v":24000},{"t":1082,"v":2000},{"t":1086,"v":18000},{"t":1090,"v":9000},{"t":1094,"v":32500},{"t":1098,"v":26000},{"t":1102,"v":4000},{"t":1105,"v":32000},{"t":1108,"v":26000},{"t":1112,"v":9000},{"t":1121,"v":34000},{"t":1124,"v":17000},{"t":1128,"v":2500},{"t":1132,"v":20000},{"t":1136,"v":7000},{"t":1140,"v":14000},{"t":1144,"v":3000},{"t":1148,"v":19000},{"t":1152,"v":10000},{"t":1156,"v":26000},{"t":1160,"v":5000},{"t":1164,"v":16000},{"t":1166,"v":2500},{"t":1168,"v":34000},{"t":1172,"v":8000},{"t":1176,"v":21000},{"t":1180,"v":2000},{"t":1184,"v":19000},{"t":1188,"v":9000},{"t":1193,"v":30000},{"t":1196,"v":5000},{"t":1200,"v":24000},{"t":1204,"v":13000},{"t":1208,"v":2000},{"t":1214,"v":28000},{"t":1218,"v":7000},{"t":1222,"v":17000},{"t":1226,"v":3000},{"t":1230,"v":29000},{"t":1234,"v":11000},{"t":1238,"v":23000},{"t":1242,"v":1500},{"t":1246,"v":17000},{"t":1250,"v":5000},{"t":1254,"v":14000},{"t":1264,"v":31000},{"t":1268,"v":2000},{"t":1272,"v":15000},{"t":1276,"v":1000},{"t":1285,"v":27000},{"t":1288,"v":8000},{"t":1292,"v":32000},{"t":1296,"v":5000},{"t":1300,"v":18000},{"t":1304,"v":3000},{"t":1308,"v":20000},{"t":1312,"v":9000},{"t":1316,"v":25000},{"t":1320,"v":3500},{"t":1324,"v":13000},{"t":1328,"v":6000},{"t":1334,"v":40000},{"t":1338,"v":40500},{"t":1340,"v":12000},{"t":1344,"v":34000},{"t":1346,"v":21000},{"t":1348,"v":47500},{"t":1349,"v":98600},{"t":1350,"v":80200},{"t":1352,"v":30000},{"t":1356,"v":26000},{"t":1360,"v":15000},{"t":1364,"v":3000},{"t":1368,"v":22000},{"t":1372,"v":9000},{"t":1376,"v":18000},{"t":1380,"v":4000},{"t":1384,"v":29000},{"t":1388,"v":6000},{"t":1392,"v":23000},{"t":1396,"v":2500},{"t":1408,"v":36500},{"t":1411,"v":50500},{"t":1414,"v":31000},{"t":1418,"v":8000},{"t":1422,"v":22000},{"t":1426,"v":2000},{"t":1435,"v":42500},{"t":1438,"v":14000},{"t":1442,"v":32000},{"t":1446,"v":4000},{"t":1450,"v":28000},{"t":1454,"v":11000},{"t":1458,"v":24000},{"t":1462,"v":1500},{"t":1466,"v":29000},{"t":1470,"v":9000},{"t":1474,"v":18000},{"t":1478,"v":2000},{"t":1482,"v":25000},{"t":1486,"v":30000},{"t":1490,"v":5000},{"t":1494,"v":15000},{"t":1498,"v":2000},{"t":1503,"v":39000},{"t":1508,"v":37500},{"t":1512,"v":11000},{"t":1516,"v":32000},{"t":1520,"v":22000},{"t":1524,"v":8000},{"t":1528,"v":27000},{"t":1532,"v":15000},{"t":1536,"v":12000},{"t":1540,"v":9000},{"t":1544,"v":18000},{"t":1548,"v":14000},{"t":1552,"v":8000},{"t":1556,"v":19000},{"t":1560,"v":4000},{"t":1564,"v":32000},{"t":1568,"v":6000},{"t":1574,"v":34500},{"t":1578,"v":15000},{"t":1582,"v":4000},{"t":1586,"v":28500},{"t":1590,"v":9000},{"t":1594,"v":18000},{"t":1598,"v":3000},{"t":1604,"v":31000},{"t":1608,"v":5000},{"t":1612,"v":15000},{"t":1616,"v":10000},{"t":1620,"v":33000},{"t":1624,"v":3500},{"t":1628,"v":19000},{"t":1637,"v":34500},{"t":1642,"v":32500},{"t":1649,"v":37000},{"t":1652,"v":7000},{"t":1656,"v":17000},{"t":1660,"v":2000},{"t":1664,"v":20000},{"t":1668,"v":8000},{"t":1672,"v":14500},{"t":1676,"v":1500},{"t":1680,"v":22500},{"t":1684,"v":6000},{"t":1688,"v":20000},{"t":1691,"v":71500},{"t":1692,"v":68500},{"t":1693,"v":64000},{"t":1696,"v":12000},{"t":1700,"v":3000},{"t":1704,"v":16000},{"t":1708,"v":6000},{"t":1712,"v":18000},{"t":1716,"v":2000},{"t":1720,"v":23500},{"t":1724,"v":9000},{"t":1728,"v":15000},{"t":1732,"v":2500},{"t":1736,"v":18500},{"t":1740,"v":5000},{"t":1744,"v":20000},{"t":1748,"v":10000},{"t":1752,"v":22000},{"t":1756,"v":3000},{"t":1760,"v":17000},{"t":1764,"v":1000},{"t":1770,"v":28000},{"t":1774,"v":4000},{"t":1778,"v":27000},{"t":1780,"v":7500},{"t":1784,"v":3000},{"t":1788,"v":7000},{"t":8,"v":18000},{"t":12,"v":16000},{"t":20,"v":14000},{"t":32,"v":17000},{"t":48,"v":12000},{"t":56,"v":10000},{"t":68,"v":16000},{"t":80,"v":11000},{"t":92,"v":14000},{"t":104,"v":12000},{"t":116,"v":9000},{"t":128,"v":17000},{"t":140,"v":15000},{"t":152,"v":10000},{"t":158,"v":21000},{"t":162,"v":17000},{"t":170,"v":12000},{"t":180,"v":19000},{"t":190,"v":15000},{"t":202,"v":18000},{"t":214,"v":14000},{"t":226,"v":21000},{"t":238,"v":13000},{"t":250,"v":16000},{"t":262,"v":11000},{"t":274,"v":15000},{"t":286,"v":10000},{"t":298,"v":16000},{"t":310,"v":13000},{"t":322,"v":17000},{"t":334,"v":12000},{"t":346,"v":14000},{"t":358,"v":10000},{"t":370,"v":17000},{"t":378,"v":13000},{"t":390,"v":16000},{"t":402,"v":20000},{"t":414,"v":12000},{"t":426,"v":18000},{"t":438,"v":14000},{"t":450,"v":20000},{"t":462,"v":11000},{"t":474,"v":16000},{"t":486,"v":19000},{"t":494,"v":13000},{"t":506,"v":17000},{"t":520,"v":12000},{"t":532,"v":18000},{"t":544,"v":14000},{"t":556,"v":11000},{"t":568,"v":18000},{"t":580,"v":14000},{"t":592,"v":12000},{"t":600,"v":19000},{"t":610,"v":15000},{"t":622,"v":17000},{"t":634,"v":11000},{"t":646,"v":20000},{"t":658,"v":18000},{"t":670,"v":24000},{"t":682,"v":20000},{"t":694,"v":22000},{"t":706,"v":26000},{"t":718,"v":22000},{"t":730,"v":25000},{"t":742,"v":24000},{"t":750,"v":20000},{"t":762,"v":21000},{"t":770,"v":26000},{"t":782,"v":22000},{"t":792,"v":17000},{"t":804,"v":20000},{"t":816,"v":14000},{"t":824,"v":18000},{"t":836,"v":16000},{"t":848,"v":20000},{"t":860,"v":14000},{"t":872,"v":15000},{"t":886,"v":10000},{"t":898,"v":8000},{"t":910,"v":12000},{"t":922,"v":7000},{"t":934,"v":10000},{"t":946,"v":9000},{"t":958,"v":8000},{"t":972,"v":6000},{"t":984,"v":9000},{"t":996,"v":7000},{"t":1008,"v":8000},{"t":1020,"v":5000},{"t":1032,"v":7000},{"t":1044,"v":6000},{"t":1056,"v":8000},{"t":1068,"v":5000},{"t":1080,"v":9000},{"t":1092,"v":6000},{"t":1104,"v":12000},{"t":1116,"v":7000},{"t":1130,"v":5000},{"t":1142,"v":9000},{"t":1154,"v":7000},{"t":1170,"v":11000},{"t":1182,"v":7000},{"t":1194,"v":12000},{"t":1206,"v":8000},{"t":1220,"v":10000},{"t":1232,"v":6000},{"t":1244,"v":9000},{"t":1258,"v":7000},{"t":1270,"v":8000},{"t":1282,"v":5000},{"t":1294,"v":9000},{"t":1306,"v":7000},{"t":1318,"v":11000},{"t":1330,"v":9000},{"t":1342,"v":14000},{"t":1358,"v":10000},{"t":1370,"v":7000},{"t":1382,"v":12000},{"t":1394,"v":9000},{"t":1404,"v":7000},{"t":1416,"v":16000},{"t":1428,"v":10000},{"t":1440,"v":8000},{"t":1452,"v":15000},{"t":1464,"v":7000},{"t":1476,"v":9000},{"t":1488,"v":13000},{"t":1500,"v":8000},{"t":1514,"v":14000},{"t":1526,"v":10000},{"t":1538,"v":14000},{"t":1550,"v":10000},{"t":1562,"v":13000},{"t":1576,"v":9000},{"t":1588,"v":7000},{"t":1600,"v":11000},{"t":1612,"v":7000},{"t":1626,"v":9000},{"t":1640,"v":6000},{"t":1654,"v":9000},{"t":1666,"v":5000},{"t":1678,"v":7000},{"t":1694,"v":5000},{"t":1706,"v":7000},{"t":1718,"v":6000},{"t":1730,"v":5000},{"t":1742,"v":7000},{"t":1754,"v":5000},{"t":1766,"v":4000},{"t":1776,"v":6000}]
},
"bounds":"flush","spacing":557,"vconcat":[{"bounds":"flush","spacing":107,"hconcat":[
{"width":383,"height":383,"layer":[
{"data":{"name":"a"},"encoding":{"x":{"field":"t","type":"quantitative","title":"Time","scale":{"domain":[-37.5,1040],"nice":false,"zero":false},"axis":{"values":[0,200,400,600,800,1000]}},"y":{"field":"v","type":"quantitative","title":"I","scale":{"domain":[1276,133800],"nice":false,"zero":false},"axis":{"values":[20000,40000,60000,80000,100000,120000],"labelExpr":"datum.value % 40000 == 20000 ? format(datum.value,'d') : ''"}}},"layer":[{"mark":{"type":"line"}},{"mark":{"type":"point"}}]},
{"data":{"values":[{"label":"(a)"}]},"mark":{"type":"text","font":"Liberation Serif","fontSize":47,"align":"left","baseline":"alphabetic","color":"black"},"encoding":{"text":{"field":"label"},"x":{"datum":137},"y":{"datum":-42413}}},
{"data":{"values":[{"label":"Dataset I"}]},"mark":{"type":"text","font":"Liberation Serif","fontSize":40,"align":"left","baseline":"alphabetic","color":"black"},"encoding":{"text":{"field":"label"},"x":{"datum":326},"y":{"datum":-42413}}}
]},
{"width":383,"height":383,"layer":[
{"data":{"name":"b"},"encoding":{"x":{"field":"t","type":"quantitative","title":"Time","scale":{"domain":[-9.6,280.7],"nice":false,"zero":false},"axis":{"values":[0,50,100,150,200,250]}},"y":{"field":"v","type":"quantitative","title":"II","scale":{"domain":[2990,85310],"nice":false,"zero":false},"axis":{"values":[20000,40000,60000,80000],"format":"d"}}},"layer":[{"mark":{"type":"line"}},{"mark":{"type":"point"}}]},
{"data":{"values":[{"label":"(b)"}]},"mark":{"type":"text","font":"Liberation Serif","fontSize":47,"align":"left","baseline":"alphabetic","color":"black"},"encoding":{"text":{"field":"label"},"x":{"datum":32},"y":{"datum":-24143}}},
{"data":{"values":[{"label":"Dataset II"}]},"mark":{"type":"text","font":"Liberation Serif","fontSize":40,"align":"left","baseline":"alphabetic","color":"black"},"encoding":{"text":{"field":"label"},"x":{"datum":83.8},"y":{"datum":-24143}}}
]},
{"width":383,"height":383,"layer":[
{"data":{"name":"c"},"encoding":{"x":{"field":"t","type":"quantitative","title":"Time","scale":{"domain":[-49,1289.6],"nice":false,"zero":false},"axis":{"values":[0,200,400,600,800,1000,1200]}},"y":{"field":"v","type":"quantitative","title":"III","scale":{"domain":[-9022,406520],"nice":false,"zero":false},"axis":{"values":[0,100000,200000,300000,400000],"labelExpr":"replace(format(datum.value,'.0e'),'+','+0')"}}},"layer":[{"mark":{"type":"line"}},{"mark":{"type":"point"}}]},
{"data":{"values":[{"label":"(c)"}]},"mark":{"type":"text","font":"Liberation Serif","fontSize":47,"align":"left","baseline":"alphabetic","color":"black"},"encoding":{"text":{"field":"label"},"x":{"datum":127},"y":{"datum":-145978}}},
{"data":{"values":[{"label":"Dataset III"}]},"mark":{"type":"text","font":"Liberation Serif","fontSize":40,"align":"left","baseline":"alphabetic","color":"black"},"encoding":{"text":{"field":"label"},"x":{"datum":347.4},"y":{"datum":-145978}}}
]}]},
{"bounds":"flush","spacing":107,"hconcat":[
{"width":138,"height":10,"view":{"stroke":null},"data":{"values":[]},"mark":"point"},
{"width":383,"height":383,"layer":[
{"data":{"name":"d"},"encoding":{"x":{"field":"t","type":"quantitative","title":"Time","scale":{"domain":[-14.6,416.6],"nice":false,"zero":false},"axis":{"values":[0,100,200,300,400]}},"y":{"field":"v","type":"quantitative","title":"IV","scale":{"domain":[-4267,189970],"nice":false,"zero":false},"axis":{"values":[0,50000,100000,150000],"format":"d"}}},"layer":[{"mark":{"type":"line"}},{"mark":{"type":"point"}}]},
{"data":{"values":[{"label":"(d)"}]},"mark":{"type":"text","font":"Liberation Serif","fontSize":47,"align":"left","baseline":"alphabetic","color":"black"},"encoding":{"text":{"field":"label"},"x":{"datum":38.6},"y":{"datum":-67913}}},
{"data":{"values":[{"label":"Dataset IV"}]},"mark":{"type":"text","font":"Liberation Serif","fontSize":40,"align":"left","baseline":"alphabetic","color":"black"},"encoding":{"text":{"field":"label"},"x":{"datum":116.3},"y":{"datum":-67913}}}
]},
{"width":383,"height":383,"layer":[
{"data":{"name":"e"},"encoding":{"x":{"field":"t","type":"quantitative","title":"Time","scale":{"domain":[-68,1855],"nice":false,"zero":false},"axis":{"values":[0,500,1000,1500]}},"y":{"field":"v","type":"quantitative","title":"I","scale":{"domain":[-2752,102480],"nice":false,"zero":false},"axis":{"values":[0,20000,40000,60000,80000,100000],"labelExpr":"replace(format(datum.value,'.0e'),'+','+0')"}}},"layer":[{"mark":{"type":"line"}},{"mark":{"type":"point"}}]},
{"data":{"values":[{"label":"(e)"}]},"mark":{"type":"text","font":"Liberation Serif","fontSize":47,"align":"left","baseline":"alphabetic","color":"black"},"encoding":{"text":{"field":"label"},"x":{"datum":199},"y":{"datum":-37232}}},
{"data":{"values":[{"label":"Dataset V"}]},"mark":{"type":"text","font":"Liberation Serif","fontSize":40,"align":"left","baseline":"alphabetic","color":"black"},"encoding":{"text":{"field":"label"},"x":{"datum":540.6},"y":{"datum":-37232}}}
]}]}]}
